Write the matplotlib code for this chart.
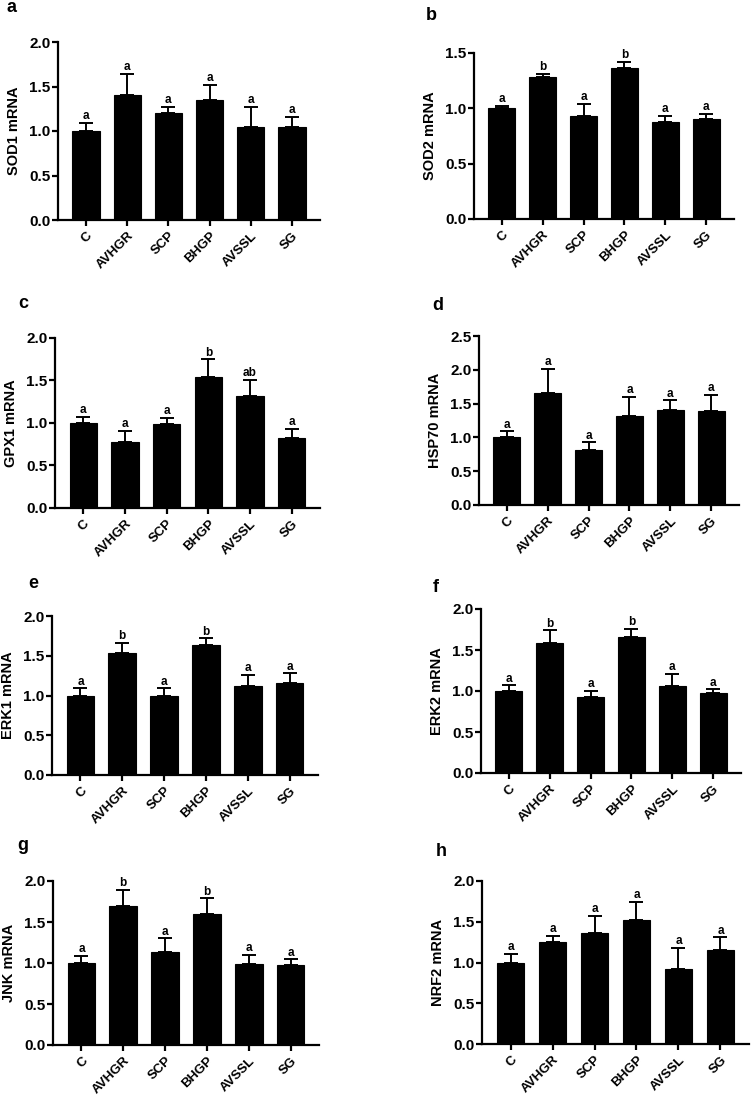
import matplotlib
matplotlib.use('Agg')
import matplotlib.pyplot as plt
import numpy as np

plt.rcParams['font.family'] = ['Liberation Sans', 'DejaVu Sans']
plt.rcParams['font.weight'] = 'bold'

groups = ['C', 'AVHGR', 'SCP', 'BHGP', 'AVSSL', 'SG']

# mean values, upper SEM, and letter groups
sod1_mean = [1.00, 1.40, 1.20, 1.35, 1.05, 1.05]
sod1_err = [0.09, 0.24, 0.07, 0.17, 0.22, 0.11]
sod1_sig = ['a', 'a', 'a', 'a', 'a', 'a']

sod2_mean = [1.00, 1.28, 0.93, 1.36, 0.875, 0.905]
sod2_err = [0.02, 0.03, 0.11, 0.06, 0.055, 0.045]
sod2_sig = ['a', 'b', 'a', 'b', 'a', 'a']

gpx1_mean = [1.00, 0.78, 0.99, 1.54, 1.32, 0.82]
gpx1_err = [0.07, 0.13, 0.07, 0.21, 0.19, 0.11]
gpx1_sig = ['a', 'a', 'a', 'b', 'ab', 'a']

hsp70_mean = [1.00, 1.65, 0.81, 1.32, 1.41, 1.39]
hsp70_err = [0.09, 0.36, 0.115, 0.28, 0.14, 0.24]
hsp70_sig = ['a', 'a', 'a', 'a', 'a', 'a']

erk1_mean = [1.00, 1.53, 0.99, 1.63, 1.115, 1.16]
erk1_err = [0.09, 0.135, 0.10, 0.09, 0.145, 0.12]
erk1_sig = ['a', 'b', 'a', 'b', 'a', 'a']

erk2_mean = [1.00, 1.59, 0.93, 1.66, 1.065, 0.98]
erk2_err = [0.07, 0.15, 0.07, 0.10, 0.145, 0.04]
erk2_sig = ['a', 'b', 'a', 'b', 'a', 'a']

jnk_mean = [1.00, 1.69, 1.13, 1.60, 0.99, 0.98]
jnk_err = [0.09, 0.20, 0.17, 0.19, 0.11, 0.065]
jnk_sig = ['a', 'b', 'a', 'b', 'a', 'a']

nrf2_mean = [1.00, 1.25, 1.36, 1.52, 0.92, 1.15]
nrf2_err = [0.11, 0.08, 0.21, 0.22, 0.26, 0.16]
nrf2_sig = ['a', 'a', 'a', 'a', 'a', 'a']

# (letter, ylabel, mean, err, sig, ymax, axes box in pixels: left, top, right, bottom, letter pos)
panels = [
    ('a', 'SOD1 mRNA', sod1_mean, sod1_err, sod1_sig, 2.0, (58, 42, 320, 220), (12, 8)),
    ('b', 'SOD2 mRNA', sod2_mean, sod2_err, sod2_sig, 1.5, (474, 53, 734, 219), (431, 15)),
    ('c', 'GPX1 mRNA', gpx1_mean, gpx1_err, gpx1_sig, 2.0, (55, 338, 320, 508), (23, 303)),
    ('d', 'HSP70 mRNA', hsp70_mean, hsp70_err, hsp70_sig, 2.5, (479, 336, 739, 505), (438, 305)),
    ('e', 'ERK1 mRNA', erk1_mean, erk1_err, erk1_sig, 2.0, (52, 616, 318, 775), (33, 583)),
    ('f', 'ERK2 mRNA', erk2_mean, erk2_err, erk2_sig, 2.0, (481, 609, 741, 773), (436, 587)),
    ('g', 'JNK mRNA', jnk_mean, jnk_err, jnk_sig, 2.0, (53, 881, 319, 1045), (23, 845)),
    ('h', 'NRF2 mRNA', nrf2_mean, nrf2_err, nrf2_sig, 2.0, (482, 881, 749, 1044), (441, 852)),
]

W, H = 752, 1098
fig = plt.figure(figsize=(W / 100, H / 100), dpi=100)

for letter, ylab, mean, err, sig, ymax, box, lpos in panels:
    l, t, r, b = box
    ax = fig.add_axes([l / W, 1 - b / H, (r - l) / W, (b - t) / H])
    x = np.arange(len(groups))
    ax.bar(x, mean, width=0.66, color='black', edgecolor='black', linewidth=0.8, zorder=2)
    ax.errorbar(x, mean, yerr=[np.zeros(len(err)), err], fmt='none', ecolor='black',
                elinewidth=1.4, capsize=5, capthick=1.4, zorder=3)
    for xi, m, e, s in zip(x, mean, err, sig):
        ax.annotate(s, xy=(xi, m + e), xytext=(0, 0.5), textcoords='offset points',
                    ha='center', va='bottom', fontsize=8.5, fontweight='bold')
    ax.set_xlim(-0.68, 5.68)
    ax.set_ylim(0, ymax)
    ax.set_yticks(np.arange(0, ymax + 0.01, 0.5))
    ax.set_yticklabels([f'{v:.1f}' for v in np.arange(0, ymax + 0.01, 0.5)])
    ax.set_xticks(x)
    ax.set_xticklabels(groups, rotation=45, ha='right', rotation_mode='anchor')
    ax.set_ylabel(ylab, fontsize=10.5, fontweight='bold', labelpad=6)
    ax.spines['top'].set_visible(False)
    ax.spines['right'].set_visible(False)
    for sp in ('left', 'bottom'):
        ax.spines[sp].set_linewidth(1.6)
    ax.tick_params(axis='both', width=1.6, length=4, direction='out')
    ax.tick_params(axis='y', labelsize=11, pad=1.5)
    ax.tick_params(axis='x', labelsize=9.5, pad=3)
    fig.text(lpos[0] / W, 1 - lpos[1] / H, letter, fontsize=13, fontweight='bold',
             ha='center', va='center')

fig.savefig('out.png', dpi=100)
